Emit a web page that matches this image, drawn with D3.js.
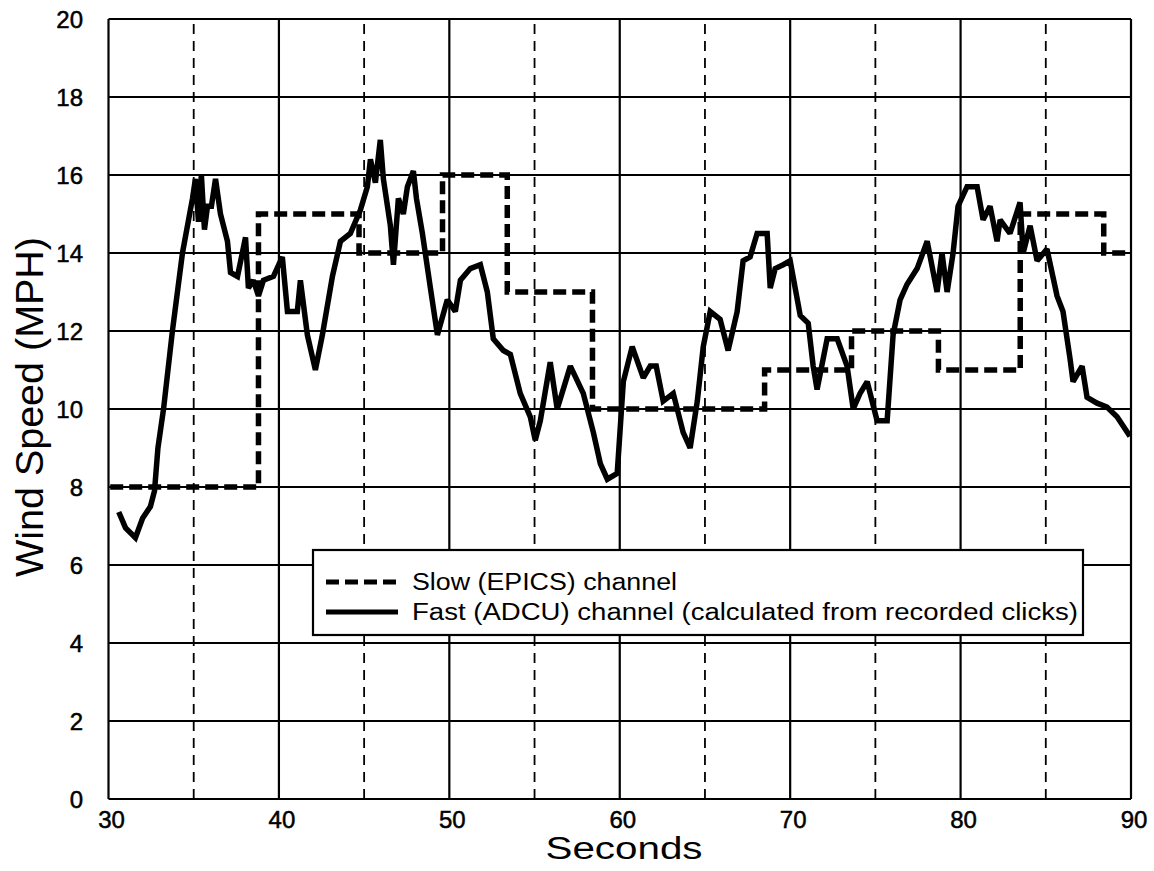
<!DOCTYPE html>
<html>
<head>
<meta charset="utf-8">
<script src="https://cdn.jsdelivr.net/npm/d3@7"></script>
<style>
  body { margin: 0; background: #fff; }
  svg { display: block; }
  text { font-family: "Liberation Sans", Arial, Helvetica, sans-serif; fill: #000; }
  .tick-label { stroke: #000; stroke-width: 0.5px; }
</style>
</head>
<body>
<svg width="1154" height="871"></svg>
<script>
// Data
var xTicks = [30, 40, 50, 60, 70, 80, 90]
var xDashTicks = [35, 45, 55, 65, 75, 85]
var yTicks = [0, 2, 4, 6, 8, 10, 12, 14, 16, 18, 20]

// Slow (EPICS) channel: step values, each held until the next time
var slowTime = [30.1, 38.8, 44.7, 49.6, 53.4, 58.4, 68.5, 73.6, 78.7, 83.5, 88.4, 90]
var slowSpeed = [8, 15, 14, 16, 13, 10, 11, 12, 11, 15, 14, 14]

// Fast (ADCU) channel
var fastTime = [30.6, 31.0, 31.58, 32.0, 32.46, 32.7, 32.9, 33.23, 33.75, 34.34, 34.93, 35.1, 35.28,
  35.45, 35.63, 35.81, 36.04, 36.28, 36.57, 36.98, 37.16, 37.57, 38.04, 38.21, 38.5, 38.8,
  39.09, 39.68, 40.2, 40.5, 41.08, 41.26, 41.67, 42.14, 42.55, 43.14, 43.61, 44.19, 44.78,
  45.19, 45.37, 45.66, 45.95, 46.13, 46.54, 46.72, 47.01, 47.3, 47.54, 47.89, 48.07, 48.42,
  48.89, 49.3, 49.88, 50.35, 50.65, 51.23, 51.82, 52.23, 52.58, 53.17, 53.58, 54.16, 54.75,
  55.04, 55.34, 55.92, 56.33, 57.1, 57.86, 58.45, 58.86, 59.27, 59.85, 60.21, 60.73, 61.38,
  61.79, 62.14, 62.55, 63.14, 63.72, 64.13, 64.55, 64.9, 65.31, 65.89, 66.36, 66.89, 67.24,
  67.65, 68.06, 68.65, 68.83, 69.12, 69.59, 70.0, 70.59, 71.06, 71.35, 71.58, 72.17, 72.76,
  73.34, 73.7, 74.1, 74.52, 75.1, 75.69, 76.04, 76.45, 76.86, 77.45, 78.04, 78.62, 78.91,
  79.21, 79.56, 79.85, 80.38, 80.97, 81.32, 81.73, 82.14, 82.32, 82.9, 83.49, 83.67, 84.08,
  84.49, 85.07, 85.66, 86.01, 86.42, 86.6, 87.13, 87.42, 88.01, 88.59, 89.18, 89.94]
var fastSpeed = [7.36, 6.95, 6.7, 7.2, 7.5, 7.9, 9.0, 10.0, 12.0, 14.0, 15.4, 15.9, 14.8,
  16.0, 14.6, 15.2, 15.2, 15.9, 15.0, 14.3, 13.5, 13.4, 14.4, 13.1, 13.3, 12.9,
  13.3, 13.4, 13.9, 12.5, 12.5, 13.3, 11.9, 11.0, 11.9, 13.4, 14.3, 14.5, 15.1,
  15.7, 16.4, 15.8, 16.9, 15.9, 14.7, 13.7, 15.4, 15.0, 15.7, 16.1, 15.4, 14.5,
  13.1, 11.9, 12.8, 12.5, 13.3, 13.6, 13.7, 13.0, 11.8, 11.5, 11.4, 10.4, 9.8,
  9.2, 9.7, 11.2, 10.0, 11.1, 10.4, 9.4, 8.6, 8.2, 8.35, 10.7, 11.6, 10.8,
  11.1, 11.1, 10.2, 10.4, 9.4, 9.0, 10.2, 11.6, 12.5, 12.3, 11.5, 12.5, 13.8,
  13.9, 14.5, 14.5, 13.1, 13.6, 13.7, 13.8, 12.4, 12.2, 11.1, 10.5, 11.8, 11.8,
  11.1, 10.0, 10.4, 10.7, 9.7, 9.7, 11.9, 12.8, 13.2, 13.6, 14.3, 13.0, 14.0,
  13.0, 14.0, 15.2, 15.7, 15.7, 14.85, 15.2, 14.3, 14.85, 14.5, 15.3, 14.0, 14.7,
  13.8, 14.1, 12.9, 12.5, 11.3, 10.7, 11.1, 10.3, 10.15, 10.05, 9.8, 9.3]

var legendLabels = ['Slow (EPICS) channel', 'Fast (ADCU) channel (calculated from recorded clicks)']

// The svg
var svg = d3.select('svg')

var x = d3.scaleLinear().domain([30, 90]).range([108.5, 1131])
var y = d3.scaleLinear().domain([0, 20]).range([799, 19])

// grid
var grid = svg.append('g')
grid.selectAll('.vgrid')
  .data(xTicks)
  .enter()
  .append('line')
  .attr('x1', d => x(d)).attr('x2', d => x(d))
  .attr('y1', y(0)).attr('y2', y(20))
  .attr('stroke', '#000').attr('stroke-width', 2.2)
grid.selectAll('.hgrid')
  .data(yTicks)
  .enter()
  .append('line')
  .attr('x1', x(30)).attr('x2', x(90))
  .attr('y1', d => y(d)).attr('y2', d => y(d))
  .attr('stroke', '#000').attr('stroke-width', 2.2)
grid.selectAll('.dgrid')
  .data(xDashTicks)
  .enter()
  .append('line')
  .attr('x1', d => x(d)).attr('x2', d => x(d))
  .attr('y1', y(0)).attr('y2', y(20))
  .attr('stroke', '#000').attr('stroke-width', 1.8)
  .attr('stroke-dasharray', '10,7')

// tick labels
svg.append('g')
  .selectAll('text')
  .data(yTicks)
  .enter()
  .append('text')
  .attr('class', 'tick-label')
  .attr('x', 83)
  .attr('y', d => y(d) + 9)
  .attr('text-anchor', 'end')
  .style('font-size', '24px')
  .text(d => d)
svg.append('g')
  .selectAll('text')
  .data(xTicks)
  .enter()
  .append('text')
  .attr('class', 'tick-label')
  .attr('x', d => x(d) + 3)
  .attr('y', 828)
  .attr('text-anchor', 'middle')
  .style('font-size', '24px')
  .text(d => d)

// axis titles
svg.append('text')
  .attr('transform', 'translate(43,407) rotate(-90)')
  .attr('text-anchor', 'middle')
  .attr('textLength', 340)
  .attr('lengthAdjust', 'spacingAndGlyphs')
  .style('font-size', '38px')
  .text('Wind Speed (MPH)')
svg.append('text')
  .attr('x', 624)
  .attr('y', 859)
  .attr('text-anchor', 'middle')
  .attr('textLength', 157)
  .attr('lengthAdjust', 'spacingAndGlyphs')
  .style('font-size', '31px')
  .text('Seconds')

// series
var slowLine = d3.line()
  .x((d, i) => x(slowTime[i]))
  .y(d => y(d))
  .curve(d3.curveStepAfter)
var fastLine = d3.line()
  .x((d, i) => x(fastTime[i]))
  .y(d => y(d))

svg.append('path')
  .attr('d', slowLine(slowSpeed))
  .attr('fill', 'none')
  .attr('stroke', '#000')
  .attr('stroke-width', 5.5)
  .attr('stroke-dasharray', '13,6')

svg.append('path')
  .attr('d', fastLine(fastSpeed))
  .attr('fill', 'none')
  .attr('stroke', '#000')
  .attr('stroke-width', 5.5)
  .attr('stroke-linejoin', 'miter')
  .attr('stroke-miterlimit', 2)

// legend
var legend = svg.append('g')
legend.append('rect')
  .attr('x', 313).attr('y', 550)
  .attr('width', 770).attr('height', 85)
  .attr('fill', '#fff')
  .attr('stroke', '#000').attr('stroke-width', 2.2)
legend.append('line')
  .attr('x1', 326).attr('x2', 398)
  .attr('y1', 582).attr('y2', 582)
  .attr('stroke', '#000').attr('stroke-width', 5)
  .attr('stroke-dasharray', '13,6')
legend.append('line')
  .attr('x1', 326).attr('x2', 398)
  .attr('y1', 612).attr('y2', 612)
  .attr('stroke', '#000').attr('stroke-width', 5)
legend.selectAll('.ltext')
  .data(legendLabels)
  .enter()
  .append('text')
  .attr('x', 412)
  .attr('y', (d, i) => 590 + i * 30)
  .attr('textLength', (d, i) => (i === 0 ? 265 : 666))
  .attr('lengthAdjust', 'spacingAndGlyphs')
  .style('font-size', '23px')
  .text(d => d)
</script>
</body>
</html>
